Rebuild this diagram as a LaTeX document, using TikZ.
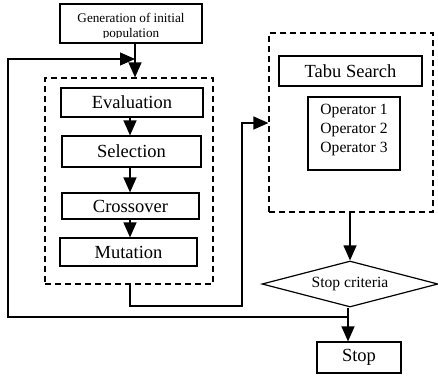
\documentclass[tikz,border=0pt]{standalone}
\usepackage{fontspec}
\setmainfont{Liberation Serif}
\usetikzlibrary{shapes.geometric,arrows.meta}
\begin{document}
\begin{tikzpicture}[x=1pt,y=-1pt,
  line width=1.2pt,
  box/.style={draw,rectangle,inner sep=0pt,font=\fontsize{18.5}{22}\selectfont},
  dbox/.style={draw,rectangle,inner sep=0pt,dash pattern=on 6pt off 4pt},
  arr/.style={-{Triangle[length=15pt,width=13pt]}}]
\useasboundingbox (0,0) rectangle (438,378);
% boxes
\node[box,minimum width=142pt,minimum height=39pt] (gen) at (131,23.5) {};
\begin{scope}
\clip (61,5) rectangle (201,37.5);
\node[align=center,inner sep=0pt,font=\fontsize{13.2}{15.5}\selectfont] (gentxt) at (131,27) {Generation of initial\\population};
\end{scope}
\node[dbox,minimum width=168pt,minimum height=206pt] (ga) at (129,181) {};
\node[box,minimum width=142pt,minimum height=29pt] (eval) at (132,102.5) {Evaluation};
\node[box,minimum width=139pt,minimum height=31pt] (sel) at (131.5,151.5) {Selection};
\node[box,minimum width=137pt,minimum height=26pt] (cross) at (130.5,206) {Crossover};
\node[box,minimum width=137pt,minimum height=28pt] (mut) at (128.5,252) {Mutation};
\node[dbox,minimum width=164pt,minimum height=179pt] (ts) at (351,122.5) {};
\node[box,minimum width=143pt,minimum height=30pt] (tabu) at (350.5,71) {Tabu Search};
\node[box,minimum width=92pt,minimum height=73pt] (ops) at (354,133.5) {};
\node[align=center,inner sep=0pt,font=\fontsize{15.6}{19}\selectfont] (opstxt) at (354,129.5) {Operator 1\\Operator 2\\Operator 3};
\node[draw,diamond,aspect=3.83,inner sep=0pt,minimum width=176pt,minimum height=46pt,font=\fontsize{15.6}{19}\selectfont] (crit) at (350,284) {Stop criteria};
\node[box,minimum width=84pt,minimum height=31pt] (stop) at (359,357.5) {Stop};
% helper coordinates
\coordinate (xa) at (135,0);
\coordinate (xg) at (130,0);
\coordinate (fb1) at (8,59);
\coordinate (fb2) at (8,317);
\coordinate (r1) at (242,306);
\coordinate (r2) at (242,123);
\coordinate (xs) at (348,0);
% connectors
\draw[arr] (gen.south -| xa) -- (ga.north -| xa);
\draw[arr] (eval.south -| xg) -- (sel.north -| xg);
\draw[arr] (sel.south -| xg) -- (cross.north -| xg);
\draw[arr] (cross.south -| xg) -- (mut.north -| xg);
\draw[arr] (ga.south -| xg) |- (r1) -- (r2) -- (r2 -| ts.west);
\draw[arr] (ts.south -| crit.north) -- (crit.north);
\draw[arr] (crit.south -| xs) -- (stop.north -| xs);
\draw[arr] (fb2 -| xs) -- (fb2) -- (fb1) -- (fb1 -| xa);
\end{tikzpicture}
\end{document}
